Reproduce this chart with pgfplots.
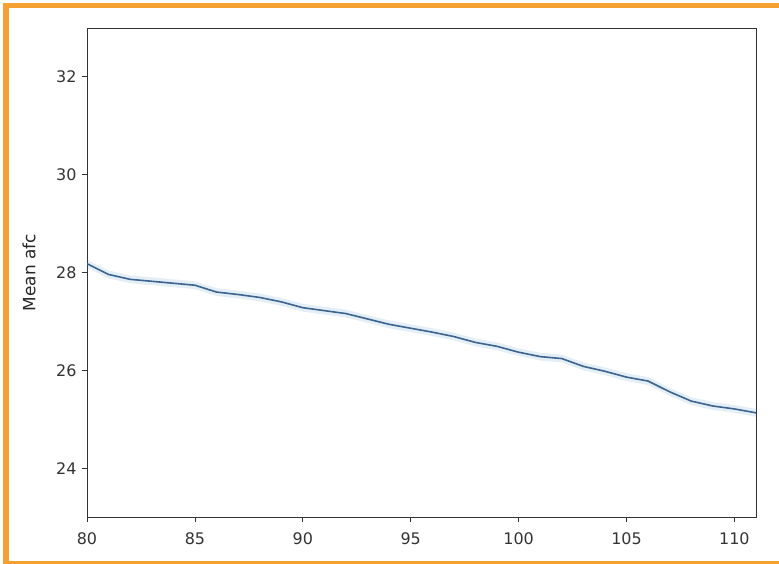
\documentclass[border=0pt]{standalone}
\usepackage{pgfplots}
\pgfplotsset{compat=1.18}
\usepgfplotslibrary{fillbetween}
\usepackage{fontspec}
\setmainfont{DejaVu Sans}
\definecolor{frameorange}{RGB}{246,160,50}
\definecolor{czero}{RGB}{31,119,180}
\definecolor{linec}{RGB}{60,100,140}
\begin{document}
\begin{tikzpicture}
\path (0bp,0bp) rectangle (779bp,564bp);
\fill[frameorange] (3bp,0bp) rectangle (8.5bp,561bp);
\fill[frameorange] (3bp,556bp) rectangle (779bp,561bp);
\fill[frameorange] (3bp,0bp) rectangle (779bp,3bp);
\begin{axis}[
  at={(87bp,47bp)}, anchor=south west,
  width=669bp, height=489bp, scale only axis,
  xmin=80, xmax=111, ymin=23, ymax=33,
  xtick={80,85,...,110}, ytick={24,26,...,32},
  tick align=outside, tick pos=left,
  major tick length=5bp,
  every tick/.style={black!80, line width=0.8bp},
  axis line style={black!80, line width=0.9bp},
  /pgf/number format/assume math mode=true,
  tick label style={font=\fontsize{16}{18}\selectfont, text=black!80},
  xticklabel style={yshift=-7bp},
  yticklabel style={xshift=-2bp},
  ylabel={Mean afc},
  every axis y label/.style={at={(axis description cs:0,0.5)}, anchor=center, rotate=90, yshift=58bp, font=\fontsize{17}{19}\selectfont, text=black!85},
]
\addplot[name path=up, draw=none, forget plot] coordinates {
(80,28.26)(81,28.04)(82,27.94)(83,27.90)(84,27.86)(85,27.82)(86,27.68)(87,27.63)(88,27.57)(89,27.48)(90,27.36)(91,27.30)(92,27.24)(93,27.13)(94,27.02)(95,26.94)(96,26.86)(97,26.77)(98,26.65)(99,26.57)(100,26.45)(101,26.36)(102,26.32)(103,26.16)(104,26.06)(105,25.94)(106,25.86)(107,25.64)(108,25.45)(109,25.35)(110,25.29)(111,25.21)
};
\addplot[name path=lo, draw=none, forget plot] coordinates {
(80,28.10)(81,27.88)(82,27.78)(83,27.74)(84,27.70)(85,27.66)(86,27.52)(87,27.47)(88,27.41)(89,27.32)(90,27.20)(91,27.14)(92,27.08)(93,26.97)(94,26.86)(95,26.78)(96,26.70)(97,26.61)(98,26.49)(99,26.41)(100,26.29)(101,26.20)(102,26.16)(103,26.00)(104,25.90)(105,25.78)(106,25.70)(107,25.48)(108,25.29)(109,25.19)(110,25.13)(111,25.05)
};
\addplot[czero, fill opacity=0.12, forget plot] fill between[of=up and lo];
\addplot[linec, line width=1.6bp] coordinates {
(80,28.18)(81,27.96)(82,27.86)(83,27.82)(84,27.78)(85,27.74)(86,27.60)(87,27.55)(88,27.49)(89,27.40)(90,27.28)(91,27.22)(92,27.16)(93,27.05)(94,26.94)(95,26.86)(96,26.78)(97,26.69)(98,26.57)(99,26.49)(100,26.37)(101,26.28)(102,26.24)(103,26.08)(104,25.98)(105,25.86)(106,25.78)(107,25.56)(108,25.37)(109,25.27)(110,25.21)(111,25.13)
};
\end{axis}
\end{tikzpicture}
\end{document}
